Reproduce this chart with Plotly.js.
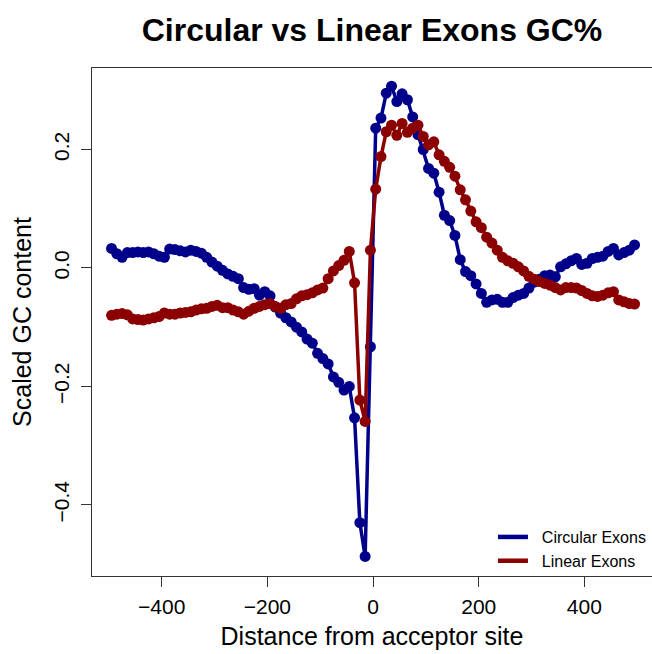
<!DOCTYPE html>
<html>
<head>
<meta charset="utf-8">
<script src="https://cdn.plot.ly/plotly-3.0.1.min.js"></script>
<style>html,body{margin:0;padding:0;background:#fff;}#chart{width:652px;height:654px;}</style>
</head>
<body>
<div id="chart"></div>
<script>
const positions = [];
for (let p = -495; p <= 495; p += 10) positions.push(p);

const circularGC = [
  0.033, 0.024, 0.018, 0.026, 0.026, 0.027, 0.026, 0.027, 0.024, 0.020,
  0.018, 0.032, 0.031, 0.029, 0.027, 0.030, 0.028, 0.025, 0.018, 0.010,
  0.003, -0.004, -0.010, -0.014, -0.018, -0.033, -0.036, -0.035, -0.046, -0.040,
  -0.047, -0.066, -0.076, -0.084, -0.091, -0.100, -0.108, -0.120, -0.127, -0.144,
  -0.153, -0.162, -0.184, -0.193, -0.206, -0.200, -0.253, -0.430, -0.487, -0.133,
  0.236, 0.253, 0.295, 0.307, 0.281, 0.294, 0.284, 0.255, 0.225, 0.200,
  0.168, 0.160, 0.128, 0.089, 0.080, 0.055, 0.014, -0.006, -0.013, -0.027,
  -0.043, -0.058, -0.054, -0.053, -0.058, -0.058, -0.050, -0.046, -0.043, -0.034,
  -0.024, -0.019, -0.013, -0.012, -0.015, 0.002, 0.007, 0.012, 0.016, 0.006,
  0.008, 0.016, 0.018, 0.020, 0.028, 0.033, 0.022, 0.026, 0.030, 0.039
];

const linearGC = [
  -0.080, -0.078, -0.077, -0.079, -0.086, -0.087, -0.088, -0.086, -0.084, -0.082,
  -0.076, -0.078, -0.078, -0.076, -0.075, -0.074, -0.071, -0.069, -0.068, -0.065,
  -0.063, -0.067, -0.067, -0.071, -0.074, -0.078, -0.073, -0.068, -0.065, -0.062,
  -0.060, -0.065, -0.068, -0.062, -0.060, -0.052, -0.047, -0.045, -0.042, -0.037,
  -0.034, -0.018, -0.005, 0.004, 0.013, 0.028, -0.025, -0.223, -0.259, 0.030,
  0.133, 0.188, 0.230, 0.241, 0.224, 0.244, 0.229, 0.236, 0.241, 0.222,
  0.208, 0.213, 0.191, 0.180, 0.170, 0.155, 0.132, 0.115, 0.096, 0.078,
  0.068, 0.052, 0.042, 0.030, 0.018, 0.012, 0.008, 0.002, -0.005, -0.014,
  -0.019, -0.023, -0.026, -0.029, -0.033, -0.037, -0.033, -0.033, -0.034, -0.038,
  -0.043, -0.047, -0.048, -0.046, -0.042, -0.040, -0.054, -0.057, -0.060, -0.061
];

const seriesNames = ["Circular Exons", "Linear Exons"];
const xTickVals = [-400, -200, 0, 200, 400];
const xTickText = ["\u2212400", "\u2212200", "0", "200", "400"];
const yTickVals = [-0.4, -0.2, 0, 0.2];
const yTickText = ["\u22120.4", "\u22120.2", "0.0", "0.2"];

const blue = "#00008B", red = "#8B0000";
const FONT = "Liberation Sans, Arial, Helvetica, sans-serif";

const traces = [
  {x: positions, y: circularGC, mode: "lines+markers", showlegend: false,
   line: {color: blue, width: 3.5}, marker: {color: blue, size: 11}},
  {x: positions, y: linearGC, mode: "lines+markers", showlegend: false,
   line: {color: red, width: 3.5}, marker: {color: red, size: 11}},
  {x: [null], y: [null], mode: "lines", name: "\u00a0\u00a0" + seriesNames[0], line: {color: blue, width: 4.5}},
  {x: [null], y: [null], mode: "lines", name: "\u00a0\u00a0" + seriesNames[1], line: {color: red, width: 4.5}}
];

const layout = {
  width: 652, height: 654,
  margin: {l: 92, r: 0, t: 68, b: 78},
  paper_bgcolor: "#fff", plot_bgcolor: "#fff",
  font: {family: FONT, color: "#000"},
  title: {text: "<b>Circular vs Linear Exons GC%</b>", font: {size: 32, family: FONT, color: "#000"},
          x: 0.5, xref: "paper", y: 0.955, yanchor: "middle"},
  xaxis: {range: [-532, 528], tickvals: xTickVals, ticktext: xTickText,
          ticks: "outside", ticklen: 10, tickwidth: 1, tickcolor: "#333",
          showgrid: false, zeroline: false, showline: true, mirror: true, linecolor: "#333", linewidth: 1,
          tickfont: {size: 21, family: FONT}, ticklabelstandoff: 2,
          title: {text: "Distance from acceptor site", font: {size: 25, family: FONT}, standoff: 10}},
  yaxis: {range: [-0.52, 0.3376], tickvals: yTickVals, ticktext: yTickText,
          ticks: "outside", ticklen: 10, tickwidth: 1, tickcolor: "#333", tickangle: -90,
          showgrid: false, zeroline: false, showline: true, mirror: true, linecolor: "#333", linewidth: 1,
          tickfont: {size: 21, family: FONT}, ticklabelstandoff: 4,
          title: {text: "Scaled GC content", font: {size: 25, family: FONT}, standoff: 10}},
  legend: {x: 0.716, y: -0.004, xanchor: "left", yanchor: "bottom", bgcolor: "rgba(0,0,0,0)",
           font: {size: 16, family: FONT}, tracegroupgap: 0, itemwidth: 30},
  showlegend: true
};

Plotly.newPlot("chart", traces, layout, {displayModeBar: false, staticPlot: true});
</script>
</body>
</html>
